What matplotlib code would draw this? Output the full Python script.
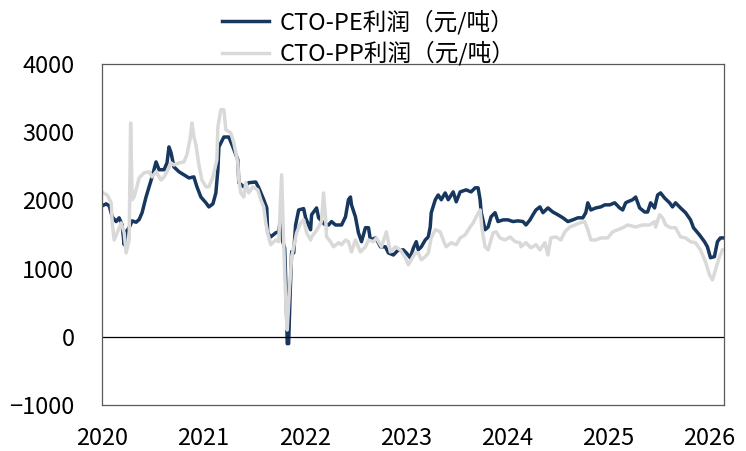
import matplotlib
matplotlib.use('Agg')
import matplotlib.pyplot as plt
import numpy as np

plt.rcParams['font.family'] = ['Noto Sans CJK SC', 'DejaVu Sans']

# years after 2020 (decimal) and profit values (yuan/ton)
pe_t = [0.000, 0.039, 0.069, 0.099, 0.138, 0.167, 0.197, 0.217, 0.236, 0.266,
        0.296, 0.335, 0.365, 0.394, 0.433, 0.463, 0.493, 0.532, 0.562, 0.611,
        0.640, 0.660, 0.680, 0.709, 0.759, 0.808, 0.857, 0.906, 0.936, 0.975,
        1.025, 1.054, 1.094, 1.123, 1.143, 1.153, 1.202, 1.251, 1.291, 1.340,
        1.350, 1.399, 1.448, 1.517, 1.547, 1.596, 1.626, 1.635, 1.665, 1.714,
        1.744, 1.764, 1.783, 1.803, 1.818, 1.828, 1.842, 1.857, 1.872, 1.892,
        1.911, 1.941, 1.990, 2.010, 2.039, 2.059, 2.069, 2.089, 2.118, 2.138,
        2.167, 2.197, 2.236, 2.266, 2.305, 2.365, 2.404, 2.433, 2.453, 2.463,
        2.502, 2.532, 2.562, 2.601, 2.631, 2.650, 2.700, 2.729, 2.749, 2.798,
        2.828, 2.877, 2.926, 2.975, 3.005, 3.044, 3.074, 3.103, 3.123, 3.153,
        3.192, 3.222, 3.241, 3.251, 3.291, 3.320, 3.350, 3.389, 3.419, 3.468,
        3.498, 3.537, 3.596, 3.645, 3.685, 3.714, 3.734, 3.744, 3.783, 3.813,
        3.842, 3.882, 3.911, 3.961, 4.010, 4.059, 4.108, 4.158, 4.187, 4.227,
        4.256, 4.286, 4.325, 4.355, 4.404, 4.453, 4.502, 4.552, 4.601, 4.650,
        4.700, 4.749, 4.778, 4.798, 4.828, 4.877, 4.926, 4.966, 5.015, 5.064,
        5.113, 5.143, 5.172, 5.192, 5.241, 5.271, 5.310, 5.360, 5.389, 5.419,
        5.458, 5.488, 5.517, 5.557, 5.606, 5.635, 5.665, 5.714, 5.764, 5.813,
        5.842, 5.901, 5.951, 5.980, 6.010, 6.049, 6.079, 6.108, 6.128]
pe_v = [1920, 1950, 1920, 1760, 1690, 1745, 1640, 1350, 1540, 1600,
        1700, 1680, 1720, 1820, 2050, 2200, 2345, 2565, 2450, 2450,
        2550, 2785, 2700, 2490, 2420, 2375, 2330, 2345, 2200, 2050,
        1965, 1905, 1950, 2110, 2450, 2785, 2930, 2930, 2785, 2595,
        2260, 2200, 2260, 2270, 2185, 2010, 1890, 1525, 1465, 1525,
        1540, 1760, 1400, 1300, 600, -100, -100, 640, 1250, 1230,
        1640, 1860, 1880, 1745, 1640, 1570, 1790, 1830, 1890, 1745,
        1700, 1650, 1640, 1690, 1640, 1640, 1760, 2010, 2050, 1935,
        1760, 1525, 1395, 1600, 1600, 1420, 1450, 1380, 1320, 1320,
        1230, 1200, 1275, 1275, 1230, 1160, 1300, 1395, 1275, 1320,
        1420, 1465, 1610, 1820, 2010, 2080, 2010, 2110, 2010, 2125,
        1980, 2125, 2155, 2125, 2185, 2185, 2010, 1830, 1570, 1610,
        1760, 1820, 1690, 1715, 1715, 1690, 1700, 1690, 1640, 1715,
        1790, 1860, 1905, 1820, 1890, 1830, 1790, 1745, 1690, 1715,
        1745, 1745, 1820, 1965, 1860, 1890, 1905, 1935, 1935, 1965,
        1890, 1860, 1965, 1980, 2010, 2050, 1890, 1830, 1830, 1965,
        1890, 2080, 2110, 2035, 1965, 1905, 1965, 1890, 1820, 1715,
        1600, 1495, 1395, 1320, 1160, 1175, 1395, 1450, 1450]

pp_t = [0.000, 0.049, 0.089, 0.099, 0.118, 0.148, 0.187, 0.217, 0.236, 0.266,
        0.281, 0.296, 0.315, 0.335, 0.365, 0.414, 0.463, 0.493, 0.532, 0.581,
        0.611, 0.640, 0.680, 0.709, 0.759, 0.808, 0.837, 0.867, 0.887, 0.906,
        0.926, 0.956, 0.985, 1.025, 1.054, 1.094, 1.133, 1.143, 1.172, 1.202,
        1.222, 1.271, 1.300, 1.340, 1.350, 1.369, 1.399, 1.419, 1.448, 1.488,
        1.537, 1.567, 1.596, 1.616, 1.635, 1.665, 1.714, 1.744, 1.773, 1.793,
        1.813, 1.828, 1.852, 1.872, 1.892, 1.921, 1.960, 1.990, 2.020, 2.059,
        2.069, 2.108, 2.138, 2.167, 2.187, 2.207, 2.217, 2.256, 2.286, 2.335,
        2.365, 2.404, 2.433, 2.463, 2.502, 2.552, 2.601, 2.631, 2.680, 2.709,
        2.759, 2.808, 2.847, 2.897, 2.946, 2.995, 3.025, 3.054, 3.094, 3.123,
        3.153, 3.192, 3.222, 3.251, 3.291, 3.340, 3.369, 3.399, 3.448, 3.498,
        3.537, 3.586, 3.635, 3.665, 3.695, 3.734, 3.754, 3.783, 3.813, 3.862,
        3.892, 3.931, 3.980, 4.030, 4.079, 4.128, 4.138, 4.187, 4.236, 4.286,
        4.325, 4.374, 4.404, 4.433, 4.483, 4.532, 4.571, 4.621, 4.670, 4.719,
        4.768, 4.798, 4.828, 4.877, 4.926, 4.995, 5.044, 5.094, 5.143, 5.192,
        5.271, 5.340, 5.409, 5.458, 5.468, 5.507, 5.537, 5.567, 5.616, 5.665,
        5.714, 5.764, 5.813, 5.862, 5.911, 5.961, 6.000, 6.030, 6.059, 6.099,
        6.128]
pp_v = [2120, 2080, 1965, 1670, 1420, 1525, 1670, 1525, 1230, 1420,
        3135, 2010, 2050, 2155, 2330, 2405, 2420, 2345, 2420, 2300,
        2345, 2420, 2550, 2520, 2550, 2565, 2670, 2890, 3135, 2930,
        2815, 2520, 2300, 2200, 2200, 2345, 2595, 3080, 3330, 3330,
        3035, 2990, 2845, 2550, 2300, 2110, 2050, 2260, 2110, 2200,
        2155, 2010, 1905, 1670, 1525, 1350, 1420, 1395, 2375, 1380,
        540, 100, 735, 1175, 1320, 1525, 1670, 1715, 1525, 1420,
        1465, 1540, 1610, 1690, 2110, 1760, 1465, 1395, 1320, 1380,
        1350, 1420, 1395, 1245, 1420, 1245, 1320, 1420, 1395, 1450,
        1320, 1540, 1245, 1320, 1275, 1160, 1055, 1130, 1230, 1230,
        1130, 1175, 1230, 1450, 1570, 1540, 1420, 1320, 1380, 1350,
        1450, 1495, 1610, 1670, 1760, 1860, 1570, 1320, 1275, 1525,
        1540, 1450, 1420, 1465, 1395, 1380, 1320, 1380, 1305, 1350,
        1275, 1380, 1200, 1450, 1465, 1420, 1540, 1610, 1640, 1670,
        1690, 1570, 1420, 1420, 1450, 1450, 1540, 1570, 1600, 1640,
        1610, 1640, 1640, 1690, 1610, 1790, 1745, 1640, 1600, 1600,
        1465, 1450, 1395, 1380, 1275, 1100, 910, 835, 980, 1175,
        1275]

years = [2020, 2021, 2022, 2023, 2024, 2025, 2026]
yticks = [-1000, 0, 1000, 2000, 3000, 4000]

pe_x = 2020 + np.array(pe_t)
pp_x = 2020 + np.array(pp_t)

fig = plt.figure(figsize=(7.46, 4.51), dpi=100)
ax = fig.add_axes([0.137, 0.102, 0.833, 0.756])

ax.plot(pe_x, pe_v, color='#17375E', linewidth=2.5, label='CTO-PE利润（元/吨）')
ax.plot(pp_x, pp_v, color='#D9D9D9', linewidth=2.5, label='CTO-PP利润（元/吨）')
ax.axhline(0, color='black', linewidth=0.9)

ax.set_xlim(2020.01, 2026.14)
ax.set_ylim(-1000, 4000)
ax.set_xticks(years)
ax.set_xticklabels([str(y) for y in years])
ax.set_yticks(yticks)
ax.tick_params(axis='both', length=0, labelsize=17)
ax.tick_params(axis='x', pad=16)
ax.tick_params(axis='y', pad=20)
for s in ax.spines.values():
    s.set_color('#595959')
    s.set_linewidth(0.9)

fig.legend(loc='upper center', bbox_to_anchor=(0.494, 1.025), ncol=1,
           frameon=False, fontsize=17, handlelength=2.0, handletextpad=0.45,
           labelspacing=0.28)

fig.savefig('out.png', dpi=100)
